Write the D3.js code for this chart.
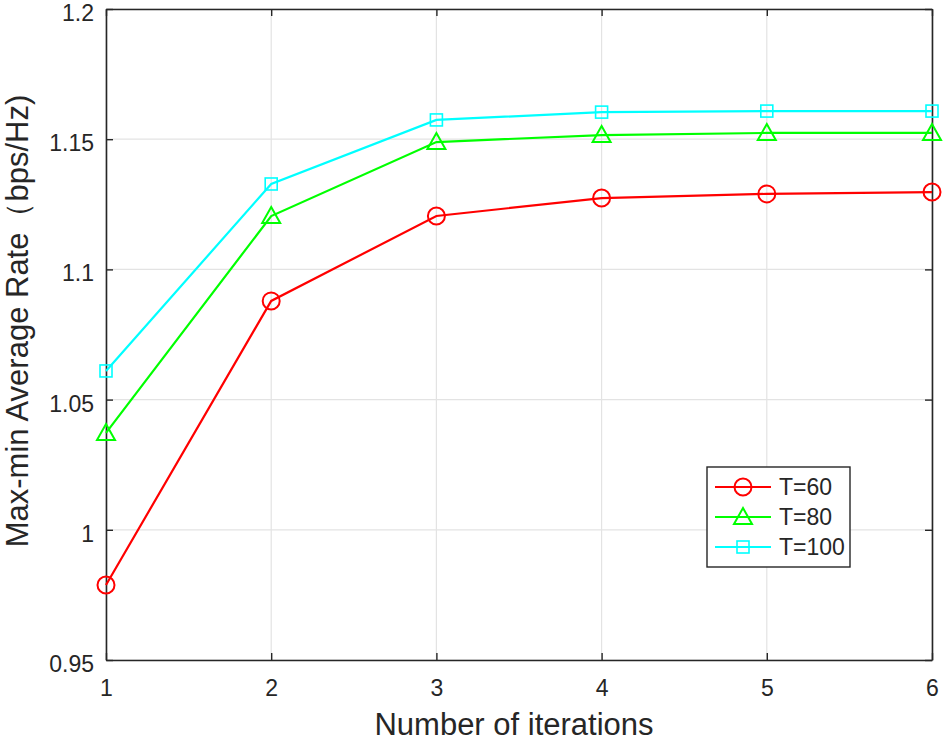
<!DOCTYPE html>
<html>
<head>
<meta charset="utf-8">
<script src="https://cdn.jsdelivr.net/npm/d3@7"></script>
<style>
  body { margin: 0; background: #fff; }
  text { font-family: "Liberation Sans", Arial, sans-serif; fill: #262626; }
</style>
</head>
<body>
<svg id="canvas" width="944" height="744"></svg>
<script>
// data
let iterations = [1, 2, 3, 4, 5, 6]
let t60 = [0.9788, 1.0879, 1.1205, 1.1274, 1.1290, 1.1297]
let t80 = [1.0372, 1.1205, 1.1489, 1.1516, 1.1524, 1.1524]
let t100 = [1.0610, 1.1328, 1.1574, 1.1604, 1.1608, 1.1608]
let seriesNames = ['T=60', 'T=80', 'T=100']
let yTicks = [0.95, 1, 1.05, 1.1, 1.15, 1.2]

let series = [
    { name: seriesNames[0], values: t60, color: '#ff0000', marker: 'circle' },
    { name: seriesNames[1], values: t80, color: '#00ff00', marker: 'triangle' },
    { name: seriesNames[2], values: t100, color: '#00ffff', marker: 'square' }
]

let plotLeft = 106, plotRight = 932, plotTop = 9, plotBottom = 660

let canvas = d3.select('#canvas')

let xScale = d3.scaleLinear().domain([1, 6]).range([plotLeft, plotRight])
let yScale = d3.scaleLinear().domain([0.95, 1.2]).range([plotBottom, plotTop])

// grid
canvas.append('g')
    .selectAll('line')
    .data(iterations)
    .enter()
    .append('line')
    .attr('x1', d => xScale(d)).attr('x2', d => xScale(d))
    .attr('y1', plotTop).attr('y2', plotBottom)
    .attr('stroke', '#e3e3e3').attr('stroke-width', 1.2)

canvas.append('g')
    .selectAll('line')
    .data(yTicks)
    .enter()
    .append('line')
    .attr('x1', plotLeft).attr('x2', plotRight)
    .attr('y1', d => yScale(d)).attr('y2', d => yScale(d))
    .attr('stroke', '#e3e3e3').attr('stroke-width', 1.2)

// axes (inward ticks, boxed like matlab)
let fmt = d => String(+d.toFixed(2))

let xAxis = d3.axisBottom(xScale).tickValues(iterations).tickSizeInner(-7).tickSizeOuter(0).tickPadding(20).tickFormat(d3.format('d'))
let yAxis = d3.axisLeft(yScale).tickValues(yTicks).tickSizeInner(-7).tickSizeOuter(0).tickPadding(12).tickFormat(fmt)

canvas.append('g').attr('transform', `translate(0,${plotBottom})`).call(xAxis)
canvas.append('g').attr('class', 'yax').attr('transform', `translate(${plotLeft},0)`).call(yAxis)
canvas.append('g').attr('transform', `translate(0,${plotTop})`)
    .call(d3.axisTop(xScale).tickValues(iterations).tickSizeInner(-7).tickSizeOuter(0).tickFormat(''))
canvas.append('g').attr('transform', `translate(${plotRight},0)`)
    .call(d3.axisRight(yScale).tickValues(yTicks).tickSizeInner(-7).tickSizeOuter(0).tickFormat(''))

canvas.selectAll('.domain').attr('stroke', '#262626').attr('stroke-width', 1.6)
canvas.selectAll('.tick line').attr('stroke', '#262626').attr('stroke-width', 1.4)
canvas.selectAll('.tick text').attr('font-size', 23).style('font-family', '"Liberation Sans", Arial, sans-serif').attr('fill', '#262626')
canvas.selectAll('.yax .tick text').attr('dy', '0.5em')

// axis labels
canvas.append('text')
    .attr('x', 514).attr('y', 735)
    .attr('text-anchor', 'middle').attr('font-size', 31)
    .text('Number of iterations')

canvas.append('text')
    .attr('transform', 'translate(28,321) rotate(-90)')
    .attr('text-anchor', 'middle').attr('font-size', 31)
    .text('Max-min Average Rate（bps/Hz)')

// markers
let drawMarker = (g, type, color) => {
    if (type === 'circle') {
        g.append('circle').attr('r', 8.5).attr('fill', 'none').attr('stroke', color).attr('stroke-width', 2)
    } else if (type === 'triangle') {
        g.append('path').attr('d', 'M0,-9 L9,7 L-9,7 Z').attr('fill', 'none').attr('stroke', color).attr('stroke-width', 2)
    } else {
        g.append('rect').attr('x', -6).attr('y', -6).attr('width', 12).attr('height', 12)
            .attr('fill', 'none').attr('stroke', color).attr('stroke-width', 1.6)
    }
}

let line = d3.line().x((d, i) => xScale(iterations[i])).y(d => yScale(d))

series.forEach(s => {
    canvas.append('path')
        .datum(s.values)
        .attr('d', line)
        .attr('fill', 'none')
        .attr('stroke', s.color)
        .attr('stroke-width', 2.2)

    s.values.forEach((v, i) => {
        let g = canvas.append('g').attr('transform', `translate(${xScale(iterations[i])},${yScale(v)})`)
        drawMarker(g, s.marker, s.color)
    })
})

// legend
let legend = canvas.append('g').attr('transform', 'translate(707,467)')
legend.append('rect').attr('width', 143).attr('height', 100)
    .attr('fill', '#fff').attr('stroke', '#262626').attr('stroke-width', 1.4)

series.forEach((s, i) => {
    let y = 20 + i * 30
    legend.append('line').attr('x1', 8).attr('x2', 64).attr('y1', y).attr('y2', y)
        .attr('stroke', s.color).attr('stroke-width', 2.2)
    let g = legend.append('g').attr('transform', `translate(36,${y})`)
    drawMarker(g, s.marker, s.color)
    legend.append('text').attr('x', 72).attr('y', y + 8).attr('font-size', 23).text(s.name)
})
</script>
</body>
</html>
